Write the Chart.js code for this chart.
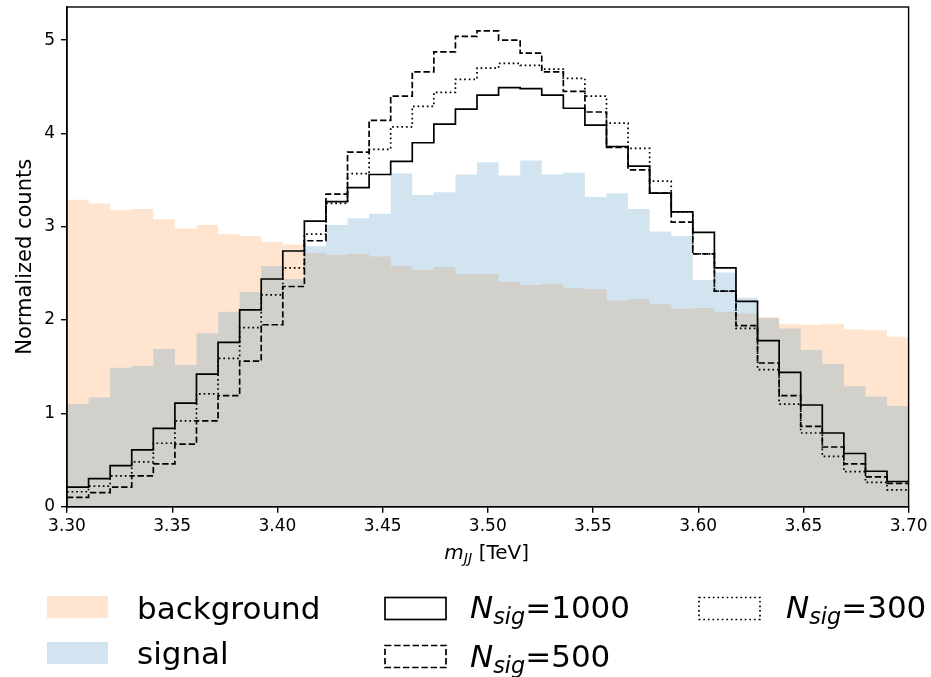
<!DOCTYPE html>
<html>
<head>
<meta charset="utf-8">
<script src="https://cdn.jsdelivr.net/npm/chart.js@4.4.1/dist/chart.umd.min.js"></script>
<style>
  html, body { margin: 0; padding: 0; background: #fff; }
  #wrap { position: relative; width: 931px; height: 677px; font-family: "DejaVu Sans", sans-serif; color: #000; }
  #chart { position: absolute; left: 0; top: 0; }
  .txt { position: absolute; line-height: 1; white-space: nowrap; }
  .leg { font-size: 31px; }
  .it { font-style: italic; }
  .sub { font-style: italic; font-size: 0.72em; vertical-align: -0.27em; }
  .patch { position: absolute; }
</style>
</head>
<body>
<div id="wrap">
  <canvas id="chart" width="931" height="677"></canvas>

  <div class="txt" style="left:486.7px; top:541.6px; font-size:20px; transform:translateX(-50%);"><span class="it">m</span><span class="sub">JJ</span> [TeV]</div>

  <div class="patch" style="left:47px; top:596px; width:61px; height:21.5px; background:rgba(255,127,14,0.2);"></div>
  <div class="txt leg" style="left:137px; top:593px;">background</div>
  <div class="patch" style="left:47px; top:642px; width:61px; height:21.5px; background:rgba(31,119,180,0.2);"></div>
  <div class="txt leg" style="left:137px; top:638px;">signal</div>

  <svg class="patch" style="left:384px; top:596px;" width="64" height="25"><rect x="1" y="1.5" width="61" height="22" fill="none" stroke="#000" stroke-width="1.7"/></svg>
  <div class="txt leg" style="left:470px; top:592px;"><span class="it">N</span><span class="sub">sig</span>=1000</div>
  <svg class="patch" style="left:384px; top:644px;" width="64" height="25"><rect x="1" y="1.5" width="61" height="22" fill="none" stroke="#000" stroke-width="1.7" stroke-dasharray="6.4 2.8"/></svg>
  <div class="txt leg" style="left:470px; top:640.6px;"><span class="it">N</span><span class="sub">sig</span>=500</div>
  <svg class="patch" style="left:697.5px; top:596px;" width="64" height="25"><rect x="1" y="1.5" width="61" height="22" fill="none" stroke="#000" stroke-width="1.7" stroke-dasharray="1.7 2.9"/></svg>
  <div class="txt leg" style="left:786px; top:592px;"><span class="it">N</span><span class="sub">sig</span>=300</div>
</div>

<script>
// Histogram binning (m_JJ in TeV)
const binLo = 3.30;
const binHi = 3.70;
const nBins = 39;

const xTicks = [3.30, 3.35, 3.40, 3.45, 3.50, 3.55, 3.60, 3.65, 3.70];
const yTicks = [0, 1, 2, 3, 4, 5];
const yMax = 5.355;

// Normalized counts per bin
const background = [3.29, 3.25, 3.18, 3.19, 3.08, 2.98, 3.02, 2.92, 2.90, 2.84,
  2.81, 2.72, 2.70, 2.71, 2.68, 2.58, 2.54, 2.57, 2.49, 2.49,
  2.41, 2.375, 2.39, 2.34, 2.33, 2.21, 2.225, 2.17, 2.12, 2.13,
  2.09, 2.07, 2.03, 1.96, 1.95, 1.96, 1.90, 1.89, 1.82];

const signal = [1.10, 1.17, 1.49, 1.51, 1.69, 1.52, 1.86, 2.09, 2.30, 2.58,
  2.44, 2.79, 3.02, 3.09, 3.14, 3.57, 3.34, 3.37, 3.56, 3.69,
  3.55, 3.71, 3.56, 3.58, 3.32, 3.36, 3.19, 2.95, 2.90, 2.43,
  2.51, 2.24, 2.02, 1.91, 1.68, 1.53, 1.29, 1.18, 1.08];

const nsig1000 = [0.21, 0.30, 0.44, 0.61, 0.84, 1.11, 1.42, 1.76, 2.11, 2.44,
  2.74, 3.06, 3.27, 3.42, 3.56, 3.70, 3.90, 4.10, 4.26, 4.41,
  4.49, 4.48, 4.41, 4.27, 4.09, 3.86, 3.65, 3.36, 3.16, 2.94,
  2.56, 2.20, 1.78, 1.44, 1.09, 0.79, 0.57, 0.38, 0.27];

const nsig500 = [0.10, 0.15, 0.21, 0.33, 0.46, 0.67, 0.92, 1.19, 1.56, 1.95,
  2.36, 2.85, 3.35, 3.80, 4.14, 4.40, 4.66, 4.875, 5.04, 5.10,
  5.00, 4.86, 4.66, 4.45, 4.23, 3.85, 3.61, 3.36, 3.05, 2.71,
  2.31, 1.94, 1.54, 1.19, 0.86, 0.64, 0.46, 0.32, 0.25];

const nsig300 = [0.16, 0.22, 0.33, 0.48, 0.68, 0.92, 1.21, 1.59, 1.92, 2.27,
  2.56, 2.92, 3.25, 3.57, 3.83, 4.07, 4.29, 4.44, 4.58, 4.70,
  4.75, 4.73, 4.69, 4.59, 4.40, 4.11, 3.84, 3.49, 3.16, 2.71,
  2.31, 1.91, 1.47, 1.10, 0.79, 0.54, 0.375, 0.26, 0.18];

const edges = Array.from({ length: nBins + 1 }, (_, i) => binLo + (binHi - binLo) * i / nBins);

// left edge of each bin + closing point at the right edge
function stepPoints(vals) {
  const pts = vals.map((v, i) => ({ x: edges[i], y: v }));
  pts.push({ x: edges[nBins], y: vals[vals.length - 1] });
  return pts;
}

function filled(label, vals, color) {
  return {
    label, data: stepPoints(vals), stepped: 'before',
    fill: 'origin', backgroundColor: color,
    borderColor: 'transparent', borderWidth: 0, pointRadius: 0
  };
}

function outline(label, vals, dash) {
  return {
    label, data: stepPoints(vals), stepped: 'before', fill: false,
    borderColor: '#000', borderWidth: 1.7, borderDash: dash,
    borderCapStyle: 'butt', borderJoinStyle: 'miter', pointRadius: 0
  };
}

// black frame around the plot area
const frame = {
  id: 'frame',
  afterDraw(chart) {
    const { ctx, chartArea: a } = chart;
    ctx.save();
    ctx.strokeStyle = '#000';
    ctx.lineWidth = 1.4;
    ctx.strokeRect(a.left, a.top, a.right - a.left, a.bottom - a.top);
    ctx.restore();
  }
};

const tickFont = { family: 'DejaVu Sans', size: 17 };

new Chart(document.getElementById('chart'), {
  type: 'line',
  data: {
    // index 0 is painted last
    datasets: [
      outline('N_sig=300', nsig300, [1.7, 2.9]),
      outline('N_sig=500', nsig500, [6.4, 2.8]),
      outline('N_sig=1000', nsig1000, []),
      filled('signal', signal, 'rgba(31,119,180,0.2)'),
      filled('background', background, 'rgba(255,127,14,0.2)')
    ]
  },
  options: {
    responsive: false,
    animation: false,
    devicePixelRatio: 1,
    layout: { padding: { left: 0, top: 7, right: 22.4, bottom: 130.3 } },
    plugins: { legend: { display: false }, tooltip: { enabled: false } },
    scales: {
      x: {
        type: 'linear', min: binLo, max: binHi,
        afterBuildTicks: (axis) => { axis.ticks = xTicks.map(v => ({ value: v })); },
        afterFit: (scale) => { scale.height = 40; scale.paddingLeft = 0; scale.paddingRight = 0; },
        ticks: { color: '#000', font: tickFont, padding: 4, maxRotation: 0, autoSkip: false,
          callback: (v) => Number(v).toFixed(2) },
        grid: { drawOnChartArea: false, drawTicks: true, tickLength: 6, color: '#000', lineWidth: 1.4 },
        border: { display: true, color: '#000', width: 1.4 }
      },
      y: {
        min: 0, max: yMax,
        afterBuildTicks: (axis) => { axis.ticks = yTicks.map(v => ({ value: v })); },
        afterFit: (scale) => { scale.width = 67; scale.paddingTop = 0; scale.paddingBottom = 0; },
        ticks: { color: '#000', font: tickFont, padding: 6, autoSkip: false },
        grid: { drawOnChartArea: false, drawTicks: true, tickLength: 6, color: '#000', lineWidth: 1.4 },
        border: { display: true, color: '#000', width: 1.4 },
        title: { display: true, text: 'Normalized counts', color: '#000',
          font: { family: 'DejaVu Sans', size: 21 }, padding: { top: 13, bottom: 0 } }
      }
    }
  },
  plugins: [frame]
});
</script>
</body>
</html>
